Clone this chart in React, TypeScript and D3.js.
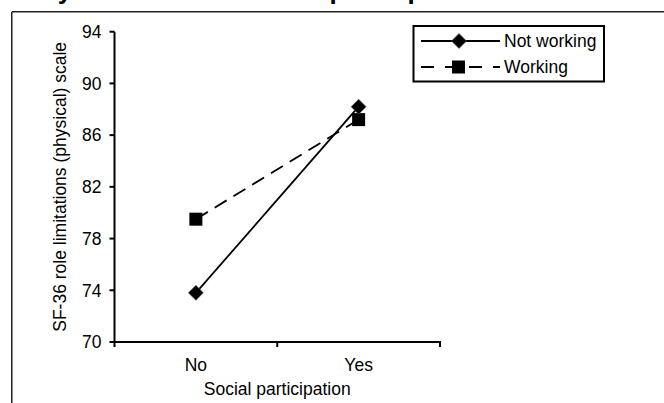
import React from "react";
import * as d3 from "d3";

const categories = ["No", "Yes"];
const notWorking = [73.8, 88.2];
const working = [79.5, 87.2];
const yTicks = [70, 74, 78, 82, 86, 90, 94];
const seriesNames = ["Not working", "Working"];
const xTitle = "Social participation";
const yTitle = "SF-36 role limitations (physical) scale";
const topTitle = "Study outcome and social participation";

const W = 664;
const H = 403;
const FONT = "'Liberation Sans', Arial, sans-serif";

export default function App() {
  const x = d3.scaleBand<string>().domain(categories).range([114.5, 440]).padding(0);
  const y = d3.scaleLinear().domain([70, 94]).range([342, 31.7]);
  const cx = (c: string) => (x(c) as number) + x.bandwidth() / 2;

  const line = d3
    .line<number>()
    .x((_, i) => cx(categories[i]))
    .y((v) => y(v));

  const diamond = (px: number, py: number, r: number) =>
    `M${px},${py - r}L${px + r},${py}L${px},${py + r}L${px - r},${py}Z`;

  const xTickPos = [x.range()[0], ...categories.slice(1).map((c) => x(c) as number), x.range()[1]];

  return (
    <svg
      width={W}
      height={H}
      style={{ position: "absolute", left: 0, top: 0, display: "block", background: "#fff" }}
      fontFamily={FONT}
    >
      <rect x={0} y={0} width={W} height={H} fill="#fff" />
      {/* title of the figure, cut off by the top edge as in the source */}
      <text x={0} y={-1.5} fontSize={26} fontWeight="bold" fill="#000">
        {topTitle}
      </text>
      {/* outer frame (top and left) */}
      <line x1={12} y1={11.75} x2={W} y2={11.75} stroke="#222" strokeWidth={1.5} />
      <line x1={11.75} y1={11.75} x2={11.75} y2={H} stroke="#222" strokeWidth={1.5} />

      {/* y axis */}
      <line x1={114.5} y1={y(94)} x2={114.5} y2={y(70)} stroke="#000" strokeWidth={2} />
      {yTicks.map((t) => (
        <g key={t}>
          <line x1={109.5} x2={114.5} y1={y(t)} y2={y(t)} stroke="#000" strokeWidth={2} />
          <text x={101.5} y={y(t)} dy="0.36em" textAnchor="end" fontSize={17.5} fill="#000">
            {t}
          </text>
        </g>
      ))}
      {/* x axis */}
      <line x1={113.5} y1={y(70)} x2={441} y2={y(70)} stroke="#000" strokeWidth={2} />
      {xTickPos.map((p, i) => (
        <line key={i} x1={p} x2={p} y1={y(70)} y2={y(70) + 5} stroke="#000" strokeWidth={2} />
      ))}
      {categories.map((c) => (
        <text key={c} x={cx(c)} y={371} textAnchor="middle" fontSize={17.5} fill="#000">
          {c}
        </text>
      ))}
      <text x={(x.range()[0] + x.range()[1]) / 2} y={395} textAnchor="middle" fontSize={17.5} fill="#000">
        {xTitle}
      </text>
      <text
        transform={`translate(66,${(y(70) + y(94)) / 2}) rotate(-90)`}
        textAnchor="middle"
        fontSize={17.5}
        fill="#000"
      >
        {yTitle}
      </text>

      {/* series lines */}
      <path d={line(working) || ""} fill="none" stroke="#000" strokeWidth={1.8} strokeDasharray="14,8" />
      <path d={line(notWorking) || ""} fill="none" stroke="#000" strokeWidth={1.8} />
      {working.map((v, i) => (
        <rect key={"w" + i} x={cx(categories[i]) - 6.5} y={y(v) - 6.5} width={13} height={13} fill="#000" />
      ))}
      {notWorking.map((v, i) => (
        <path key={"n" + i} d={diamond(cx(categories[i]), y(v), 7.5)} fill="#000" stroke="#555" strokeWidth={0.6} />
      ))}

      {/* legend */}
      <rect x={413.5} y={26} width={190.5} height={55.5} fill="#fff" stroke="#000" strokeWidth={2} />
      <line x1={421} x2={500} y1={41} y2={41} stroke="#000" strokeWidth={1.8} />
      <path d={diamond(459, 41, 7.5)} fill="#000" stroke="#555" strokeWidth={0.6} />
      <text x={504} y={47} fontSize={17.5} fill="#000">
        {seriesNames[0]}
      </text>
      <line x1={421} x2={500} y1={67} y2={67} stroke="#000" strokeWidth={1.8} strokeDasharray="13,11" />
      <rect x={452} y={60.5} width={13} height={13} fill="#000" />
      <text x={504} y={73} fontSize={17.5} fill="#000">
        {seriesNames[1]}
      </text>
    </svg>
  );
}
